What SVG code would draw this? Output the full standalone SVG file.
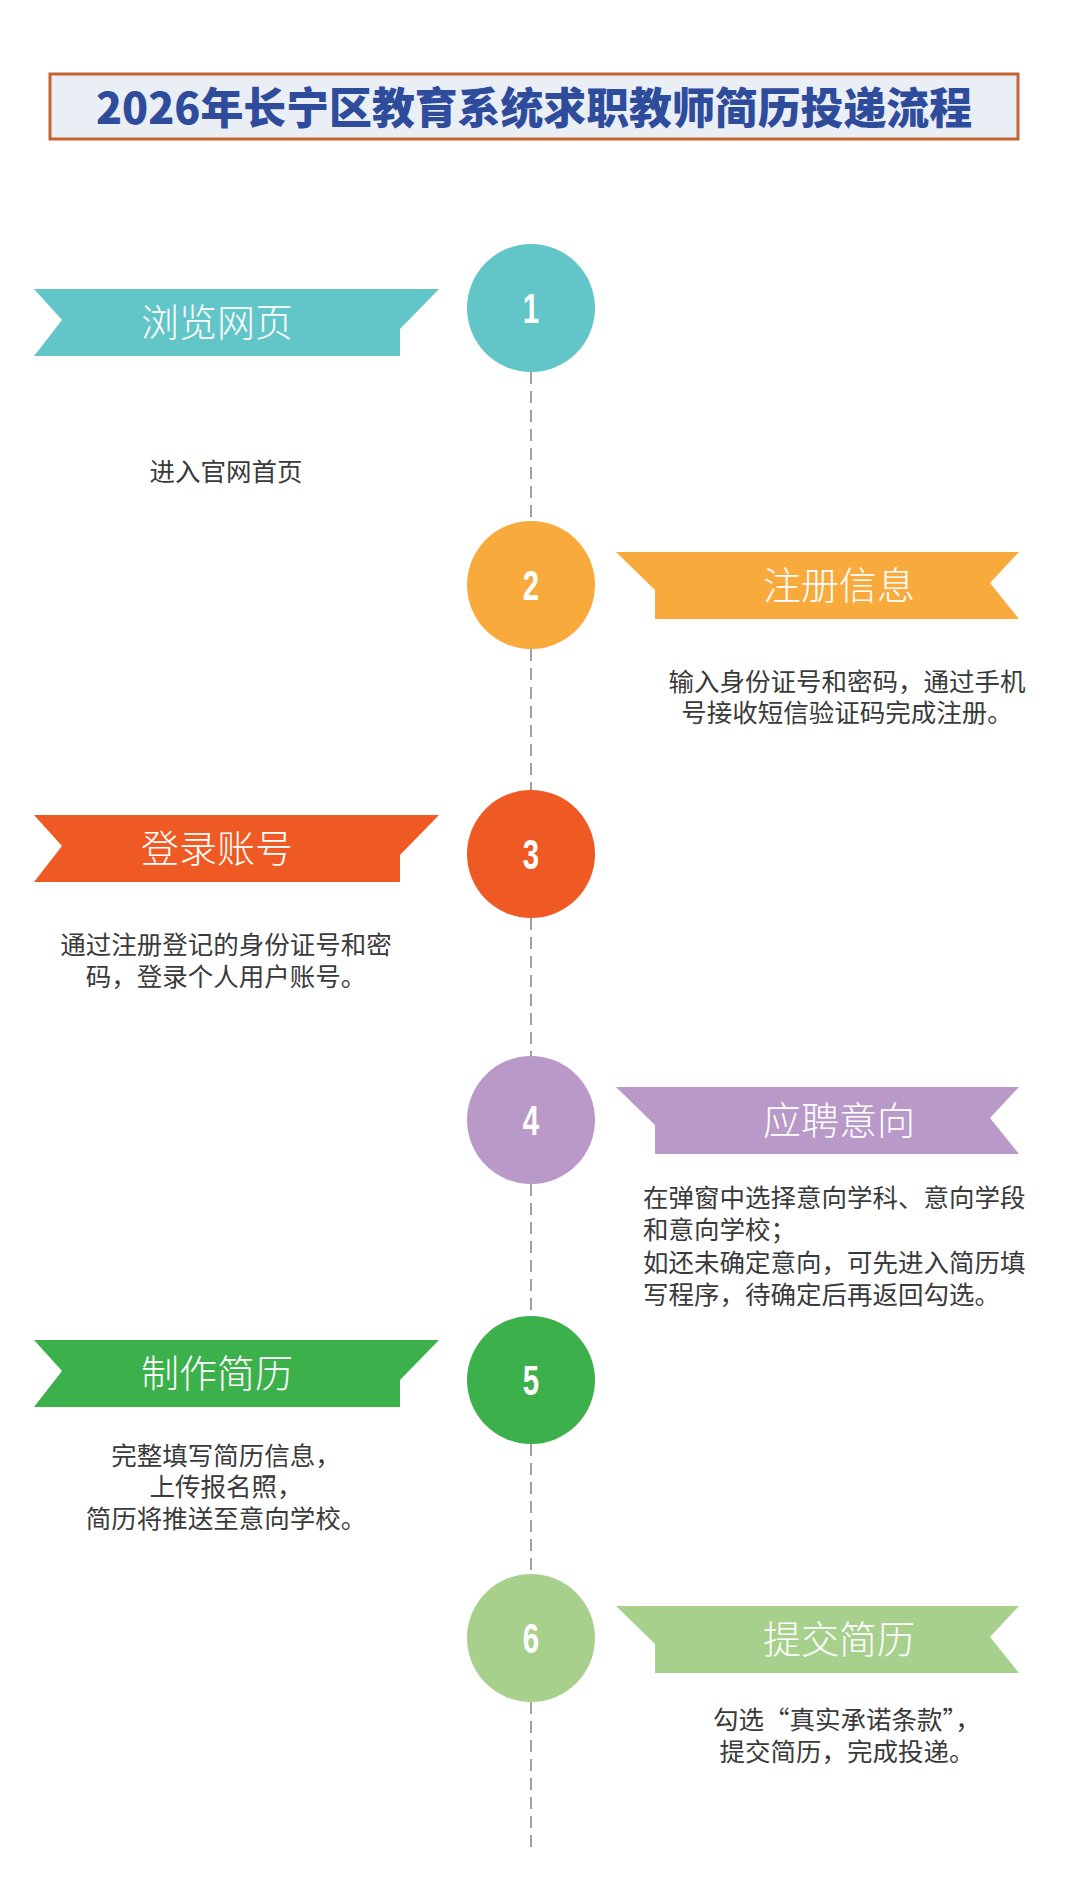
<svg xmlns="http://www.w3.org/2000/svg" width="1080" height="1882" viewBox="0 0 1080 1882">
<style>
.title{font-family:"Noto Sans CJK SC","Liberation Sans",sans-serif;font-weight:900;font-size:43px;fill:#2f4c9c;}
.rib{font-family:"Noto Sans CJK SC","Liberation Sans",sans-serif;font-weight:300;font-size:38px;fill:#ffffff;text-anchor:middle;}
.num{font-family:"Liberation Sans","DejaVu Sans",sans-serif;font-weight:bold;font-size:42px;fill:#ffffff;text-anchor:middle;}
.desc{font-family:"Noto Sans CJK SC","Liberation Sans",sans-serif;font-weight:400;font-size:25.5px;fill:#3a3a3a;}
.mid{text-anchor:middle;}
.dash{stroke:#8a8a8a;stroke-width:1.6;stroke-dasharray:12 7;fill:none;}
</style>
<rect width="1080" height="1882" fill="#ffffff"/>
<g id="title">
<rect x="50" y="74" width="968" height="65" fill="#eaeef5" stroke="#c5622f" stroke-width="3"/>
<text class="title" x="96" y="124" textLength="876" lengthAdjust="spacingAndGlyphs">2026年长宁区教育系统求职教师简历投递流程</text>
</g>
<g id="connectors">
<line class="dash" x1="531" y1="372" x2="531" y2="521"/>
<line class="dash" x1="531" y1="649" x2="531" y2="791"/>
<line class="dash" x1="531" y1="918" x2="531" y2="1056"/>
<line class="dash" x1="531" y1="1184" x2="531" y2="1315"/>
<line class="dash" x1="531" y1="1444" x2="531" y2="1574"/>
<line class="dash" x1="531" y1="1702" x2="531" y2="1848"/>
</g>
<g id="step1">
<path d="M439,289 L34,289 L62,320 L34,356 L400,356 L400,329 Z" fill="#62c6c9"/>
<text class="rib" x="217" y="336">浏览网页</text>
<circle cx="531" cy="308" r="64" fill="#62c6c9"/>
<text class="num" transform="translate(531,323) scale(0.7,1)">1</text>
<text class="desc mid" x="226" y="481">进入官网首页</text>
</g>
<g id="step2">
<path d="M616,552 L1019,552 L990,583 L1019,619 L655,619 L655,590 Z" fill="#f9aa3c"/>
<text class="rib" x="839" y="599">注册信息</text>
<circle cx="531" cy="585" r="64" fill="#f9aa3c"/>
<text class="num" transform="translate(531,600) scale(0.7,1)">2</text>
<text class="desc mid" x="847" y="691">输入身份证号和密码，通过手机</text>
<text class="desc mid" x="847" y="722">号接收短信验证码完成注册。</text>
</g>
<g id="step3">
<path d="M439,815 L34,815 L62,846 L34,882 L400,882 L400,855 Z" fill="#ef5a24"/>
<text class="rib" x="217" y="862">登录账号</text>
<circle cx="531" cy="854" r="64" fill="#ef5a24"/>
<text class="num" transform="translate(531,869) scale(0.7,1)">3</text>
<text class="desc mid" x="226" y="954">通过注册登记的身份证号和密</text>
<text class="desc mid" x="226" y="986">码，登录个人用户账号。</text>
</g>
<g id="step4">
<path d="M616,1087 L1019,1087 L990,1118 L1019,1154 L655,1154 L655,1125 Z" fill="#b899c8"/>
<text class="rib" x="839" y="1134">应聘意向</text>
<circle cx="531" cy="1120" r="64" fill="#b899c8"/>
<text class="num" transform="translate(531,1135) scale(0.7,1)">4</text>
<text class="desc" x="643" y="1207">在弹窗中选择意向学科、意向学段</text>
<text class="desc" x="643" y="1239">和意向学校；</text>
<text class="desc" x="643" y="1272">如还未确定意向，可先进入简历填</text>
<text class="desc" x="643" y="1304">写程序，待确定后再返回勾选。</text>
</g>
<g id="step5">
<path d="M439,1340 L34,1340 L62,1371 L34,1407 L400,1407 L400,1380 Z" fill="#3cb04a"/>
<text class="rib" x="217" y="1387">制作简历</text>
<circle cx="531" cy="1380" r="64" fill="#3cb04a"/>
<text class="num" transform="translate(531,1395) scale(0.7,1)">5</text>
<text class="desc mid" x="226" y="1465">完整填写简历信息，</text>
<text class="desc mid" x="226" y="1496">上传报名照，</text>
<text class="desc mid" x="226" y="1528">简历将推送至意向学校。</text>
</g>
<g id="step6">
<path d="M616,1606 L1019,1606 L990,1637 L1019,1673 L655,1673 L655,1644 Z" fill="#a7d08c"/>
<text class="rib" x="839" y="1653">提交简历</text>
<circle cx="531" cy="1638" r="64" fill="#a7d08c"/>
<text class="num" transform="translate(531,1653) scale(0.7,1)">6</text>
<text class="desc mid" x="847" y="1729">勾选“真实承诺条款”，</text>
<text class="desc mid" x="847" y="1761">提交简历，完成投递。</text>
</g>
</svg>
